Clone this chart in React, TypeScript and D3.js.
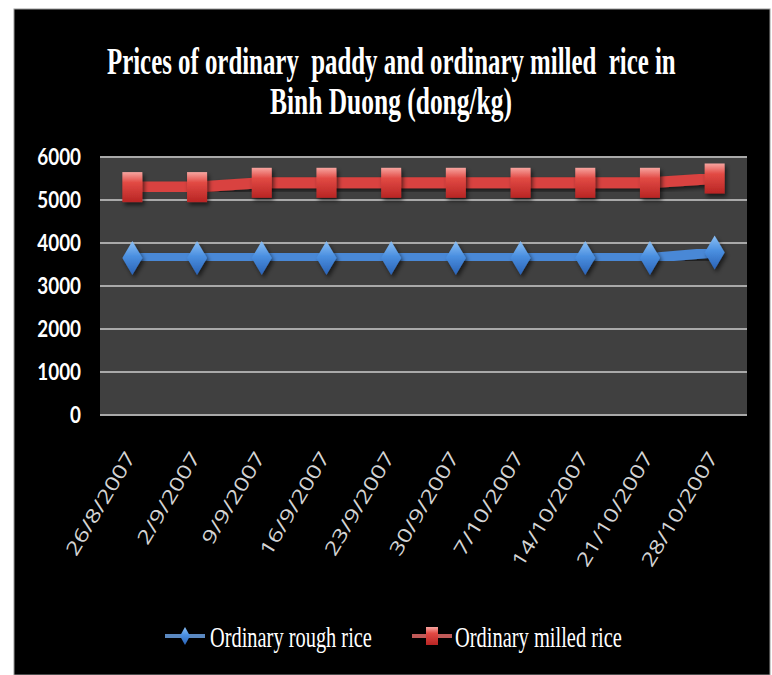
import React, { useLayoutEffect, useRef } from 'react'
import * as d3 from 'd3'

// chart data
const dates = ['26/8/2007', '2/9/2007', '9/9/2007', '16/9/2007', '23/9/2007', '30/9/2007', '7/10/2007', '14/10/2007', '21/10/2007', '28/10/2007']
const roughRice = [3650, 3650, 3650, 3650, 3650, 3650, 3650, 3650, 3650, 3780]
const milledRice = [5300, 5300, 5400, 5400, 5400, 5400, 5400, 5400, 5400, 5500]
const yTicks = [0, 1000, 2000, 3000, 4000, 5000, 6000]
const seriesNames = ['Ordinary rough rice', 'Ordinary milled rice']
const titleLines = ['Prices of ordinary  paddy and ordinary milled  rice in', 'Binh Duong (dong/kg)']

const W = 772
const H = 675
const plot = { left: 100, right: 747, top: 157, bottom: 415 }

// squeezes a text horizontally so it spans `width` px (condensed-font look)
function FitText({ x, y, width, anchor, children, rotate = 0 }: any) {
  const ref = useRef<SVGTextElement>(null)
  useLayoutEffect(() => {
    const el = ref.current
    if (!el) return
    const len = el.getComputedTextLength()
    const k = len > 0 ? width / len : 1
    d3.select(el).attr('transform', `translate(${x},${y}) rotate(${rotate}) scale(${k},1)`)
  })
  return (
    <text ref={ref} transform={`translate(${x},${y}) rotate(${rotate})`} textAnchor={anchor || 'start'} style={{ whiteSpace: 'pre' }}>
      {children}
    </text>
  )
}

export default function App() {
  const x = d3.scaleBand<string>().domain(dates).range([plot.left, plot.right])
  const y = d3.scaleLinear().domain([0, 6000]).range([plot.bottom, plot.top])
  const cx = (d: string) => (x(d) as number) + x.bandwidth() / 2

  const line = d3.line<number>()
    .x((d, i) => cx(dates[i]))
    .y(d => y(d))

  const diamond = 'M0,-17L10,0L0,17L-10,0Z'

  return (
    <svg width={W} height={H} style={{ position: 'absolute', left: 0, top: 0, background: '#fff' }}>
      <defs>
        <linearGradient id="redG" x1="0" y1="0" x2="0" y2="1">
          <stop offset="0" stopColor="#f7a5a0" />
          <stop offset="0.35" stopColor="#e24a44" />
          <stop offset="1" stopColor="#b82524" />
        </linearGradient>
        <linearGradient id="blueG" x1="0" y1="0" x2="0" y2="1">
          <stop offset="0" stopColor="#8cc0f5" />
          <stop offset="0.45" stopColor="#4a8fe0" />
          <stop offset="1" stopColor="#2a62b5" />
        </linearGradient>
        <filter id="shadow" x="-50%" y="-50%" width="200%" height="200%">
          <feDropShadow dx="2" dy="3" stdDeviation="2" floodColor="#000" floodOpacity="0.6" />
        </filter>
      </defs>

      {/* black chart frame */}
      <rect x={14} y={9} width={756} height={H - 9} fill="#000" stroke="#999" strokeWidth={1} />

      {/* title */}
      <g fill="#fff" fontFamily="'Liberation Serif', serif" fontWeight="bold" fontSize={37}>
        <FitText x={107} y={74} width={569}>{titleLines[0]}</FitText>
        <FitText x={270} y={114} width={242}>{titleLines[1]}</FitText>
      </g>

      {/* plot area */}
      <rect x={plot.left} y={plot.top} width={plot.right - plot.left} height={plot.bottom - plot.top} fill="#404040" />
      {yTicks.map(t => (
        <line key={t} x1={plot.left} x2={plot.right} y1={y(t)} y2={y(t)} stroke="#a9a9a9" strokeWidth={2} />
      ))}

      {/* y axis labels */}
      <g fill="#fff" fontFamily="Lato, 'Open Sans', sans-serif" fontWeight="bold" fontSize={23}>
        {yTicks.map(t => (
          <text key={t} transform={`translate(81,${y(t) + 8}) scale(0.82,1)`} textAnchor="end">{t}</text>
        ))}
      </g>

      {/* x axis labels */}
      <g fill="#d4d4d4" fontFamily="'Open Sans', sans-serif" fontSize={19}>
        {dates.map(d => (
          <FitText key={d} x={cx(d) + 4} y={457} rotate={-59} anchor="end" width={d.length * 13}>{d}</FitText>
        ))}
      </g>

      {/* lines */}
      <path d={line(roughRice) || ''} fill="none" stroke="#4a88d6" strokeWidth={10} filter="url(#shadow)" />
      <path d={line(milledRice) || ''} fill="none" stroke="#d9423f" strokeWidth={11} filter="url(#shadow)" />

      {/* markers */}
      {roughRice.map((v, i) => (
        <path key={'b' + i} d={diamond} transform={`translate(${cx(dates[i])},${y(v)})`} fill="url(#blueG)" filter="url(#shadow)" />
      ))}
      {milledRice.map((v, i) => (
        <rect key={'r' + i} x={cx(dates[i]) - 10} y={y(v) - 15} width={20} height={30} fill="url(#redG)" filter="url(#shadow)" />
      ))}

      {/* legend */}
      <g>
        <line x1={165} x2={205} y1={636} y2={636} stroke="#5a88c0" strokeWidth={4} />
        <path d="M0,-9L5,0L0,9L-5,0Z" transform="translate(185,636)" fill="url(#blueG)" />
        <line x1={412} x2={452} y1={636} y2={636} stroke="#c05a58" strokeWidth={4} />
        <rect x={426} y={627} width={12} height={18} fill="url(#redG)" />
        <g fill="#fff" fontFamily="'Liberation Serif', serif" fontSize={30}>
          <FitText x={210} y={647} width={162}>{seriesNames[0]}</FitText>
          <FitText x={455} y={647} width={167}>{seriesNames[1]}</FitText>
        </g>
      </g>
    </svg>
  )
}
